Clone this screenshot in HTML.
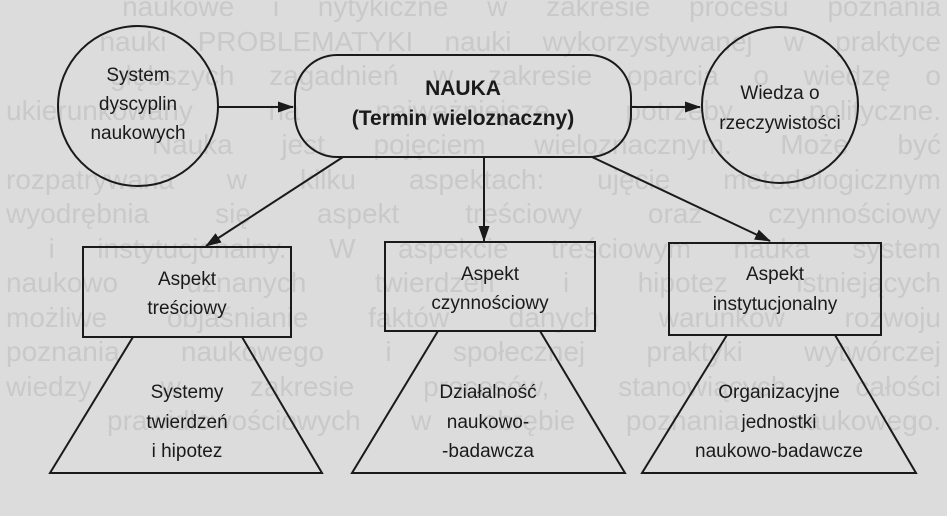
<!DOCTYPE html>
<html><head><meta charset="utf-8"><style>
html,body{margin:0;padding:0;}
body{width:947px;height:516px;background:#dcdcdc;position:relative;overflow:hidden;font-family:"Liberation Sans",sans-serif;}
.bg{position:absolute;left:0;top:0;width:935px;color:#c9c9c9;font-size:28px;line-height:34.5px;}
.bg div{text-align:justify;text-align-last:justify;white-space:normal;height:34.5px;overflow:hidden;}
svg{position:absolute;left:0;top:0;}
</style></head><body>
<div class="bg" style="top:-10px;left:6px">
<div>&nbsp;&nbsp;&nbsp;naukowe i nytykiczne w zakresie procesu poznania</div>
<div>&nbsp;&nbsp;&nbsp;nauki PROBLEMATYKI nauki wykorzystywanej w praktyce</div>
<div>&nbsp;&nbsp;&nbsp;głębszych zagadnień w zakresie oparcia o wiedzę o</div>
<div>ukierunkowany na najważniejsze potrzeby polityczne.</div>
<div>&nbsp;&nbsp;&nbsp;Nauka jest pojęciem wieloznacznym. Może być</div>
<div>rozpatrywana w kilku aspektach: ujęcie metodologicznym</div>
<div>wyodrębnia się aspekt treściowy oraz czynnościowy</div>
<div>&nbsp;i instytucjonalny. W aspekcie treściowym nauka system</div>
<div>naukowo uznanych twierdzeń i hipotez istniejących</div>
<div>możliwe objaśnianie faktów danych warunków rozwoju</div>
<div>poznania naukowego i społecznej praktyki wytwórczej</div>
<div>wiedzy w zakresie procesów, stanowiących całości</div>
<div>&nbsp;&nbsp;prawidłowościowych w obrębie poznania naukowego.</div>
</div>
<svg width="947" height="516" viewBox="0 0 947 516" font-family="Liberation Sans, sans-serif" fill="none" stroke="#1a1a1a" stroke-width="2">
<defs><marker id="a" markerWidth="16" markerHeight="11" refX="15" refY="5.5" orient="auto" markerUnits="userSpaceOnUse"><path d="M0,0 L16,5.5 L0,11 Z" fill="#1a1a1a" stroke="none"/></marker></defs>
<circle cx="138" cy="106" r="80"/>
<rect x="295" y="55" width="336" height="102" rx="42"/>
<circle cx="780" cy="105" r="78"/>
<line x1="218" y1="107" x2="293" y2="107" marker-end="url(#a)"/>
<line x1="631" y1="107" x2="700" y2="107" marker-end="url(#a)"/>
<line x1="343" y1="157" x2="206" y2="246" marker-end="url(#a)"/>
<line x1="484" y1="157" x2="484" y2="241" marker-end="url(#a)"/>
<line x1="592" y1="157" x2="770" y2="241" marker-end="url(#a)"/>
<rect x="83" y="247" width="208" height="90"/>
<rect x="385" y="242" width="210" height="89"/>
<rect x="669" y="243" width="212" height="92"/>
<polyline points="133,337 50,473 322,473 242,337"/>
<polyline points="438,331 352,473 625,473 540,331"/>
<polyline points="727,335 642,473 916,473 835,335"/>
<g fill="#1a1a1a" stroke="none" font-size="19" text-anchor="middle">
<text x="138" y="81">System</text><text x="138" y="110">dyscyplin</text><text x="138" y="139">naukowych</text>
<text x="463" y="95" font-weight="bold" font-size="21">NAUKA</text>
<text x="463" y="125" font-weight="bold" font-size="21">(Termin wieloznaczny)</text>
<text x="780" y="99">Wiedza o</text><text x="780" y="129">rzeczywistości</text>
<text x="187" y="285">Aspekt</text><text x="187" y="314">treściowy</text>
<text x="490" y="280">Aspekt</text><text x="490" y="309">czynnościowy</text>
<text x="775" y="280">Aspekt</text><text x="775" y="310">instytucjonalny</text>
<text x="187" y="398">Systemy</text><text x="187" y="428">twierdzeń</text><text x="187" y="457">i hipotez</text>
<text x="488" y="398">Działalność</text><text x="488" y="428">naukowo-</text><text x="488" y="457">-badawcza</text>
<text x="779" y="398">Organizacyjne</text><text x="779" y="428">jednostki</text><text x="779" y="457">naukowo-badawcze</text>
</g>
</svg>
</body></html>
